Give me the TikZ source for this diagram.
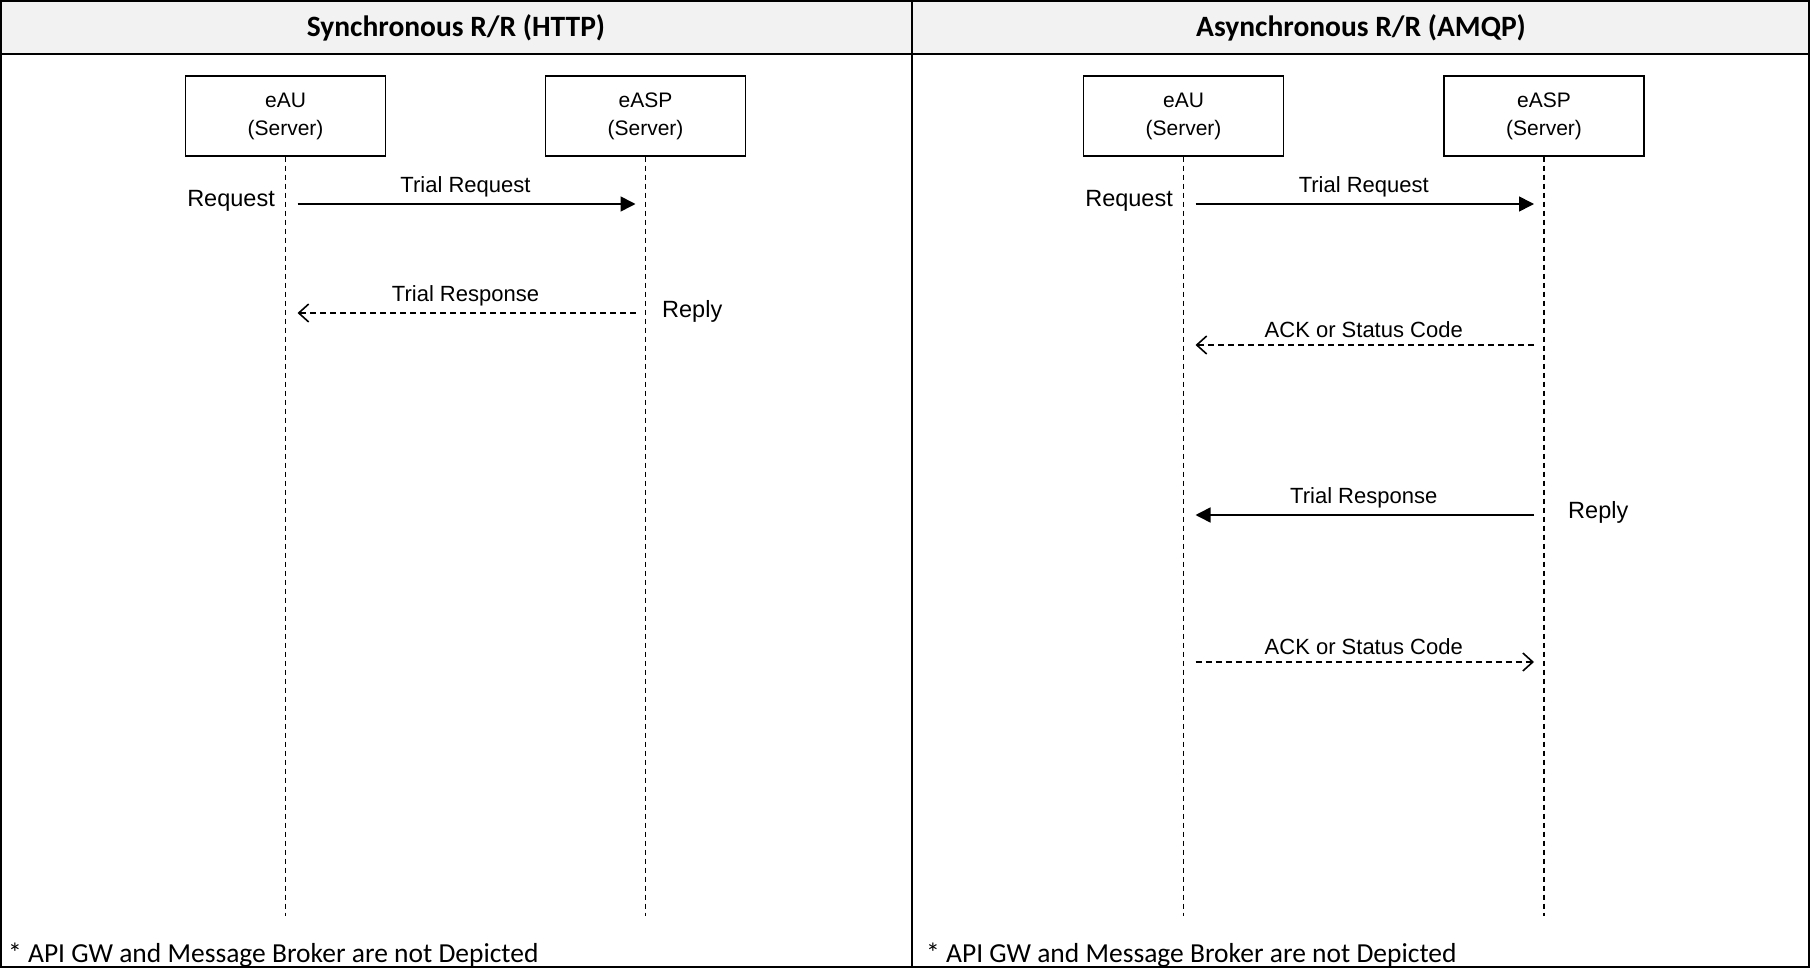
\documentclass[tikz,border=0pt]{standalone}
\usepackage{fontspec}
\setmainfont{Liberation Sans}
\newfontfamily\calibri{Carlito}
\usetikzlibrary{arrows.meta}
\definecolor{hdrgray}{HTML}{F2F2F2}
\begin{document}
\begin{tikzpicture}[x=1pt,y=-1pt,
  frame/.style={draw=black, line width=2pt},
  hdr/.style={font=\calibri\bfseries\fontsize{29.5}{34}\selectfont},
  actor/.style={draw, line width=1.4pt, minimum width=200pt, minimum height=80pt, align=center, inner sep=0pt, font=\fontsize{21}{28}\selectfont},
  lifeline/.style={line width=1.3pt, dash pattern=on 5pt off 4pt},
  reqarrow/.style={line width=1.6pt, -{Triangle[length=15pt,width=15pt]}},
  ackarrow/.style={line width=1.6pt, dash pattern=on 6pt off 4pt, -{Straight Barb[length=10pt,width=18pt,line width=1.6pt]}},
  lbl/.style={font=\fontsize{22}{26}\selectfont, inner sep=1pt},
  side/.style={font=\fontsize{23.5}{28}\selectfont, inner sep=0pt},
  note/.style={font=\calibri\fontsize{27.5}{32}\selectfont, anchor=west, inner sep=0pt}
]
\useasboundingbox (0,0) rectangle (1810,968);
% header
\fill[hdrgray] (1,1) rectangle (1809,54);
\draw[frame] (1,1) rectangle (1809,967);
\draw[frame] (1,54) -- (1809,54);
\draw[frame] (912,1) -- (912,967);
\node[hdr] (hL) at (456,28) {Synchronous R/R (HTTP)};
\node[hdr] (hR) at (1361,28) {Asynchronous R/R (AMQP)};

% ---------- left panel ----------
\node[actor] (auL) at (285.5,116) {eAU\\(Server)};
\node[actor] (aspL) at (645.5,116) {eASP\\(Server)};
\coordinate (auLend) at (285.5,916);
\coordinate (aspLend) at (645.5,916);
\draw[lifeline] (auL.south) -- (auLend);
\draw[lifeline] (aspL.south) -- (aspLend);

\coordinate (l1a) at (285.5,204);
\coordinate (l1b) at (645.5,204);
\draw[reqarrow, shorten <=12pt, shorten >=10pt] (l1a) -- node[lbl, above=5pt] (tl1) {Trial Request} (l1b);
\node[side, anchor=east] (reqL) at (275,201) {Request};

\coordinate (l2a) at (645.5,313);
\coordinate (l2b) at (285.5,313);
\draw[ackarrow, shorten <=10pt, shorten >=12pt] (l2a) -- node[lbl, above=5pt] (tl2) {Trial Response} (l2b);
\node[side, anchor=west] (repL) at (662,311) {Reply};

\node[note] (nL) at (8,955) {* API GW and Message Broker are not Depicted};

% ---------- right panel ----------
\node[actor] (auR) at (1183.5,116) {eAU\\(Server)};
\node[actor] (aspR) at (1544,116) {eASP\\(Server)};
\coordinate (auRend) at (1183.5,916);
\coordinate (aspRend) at (1544,916);
\draw[lifeline] (auR.south) -- (auRend);
\draw[lifeline] (aspR.south) -- (aspRend);

\coordinate (r1a) at (1183.5,204);
\coordinate (r1b) at (1544,204);
\draw[reqarrow, shorten <=12pt, shorten >=10pt] (r1a) -- node[lbl, above=5pt] (tr1) {Trial Request} (r1b);
\node[side, anchor=east] (reqR) at (1173,201) {Request};

\coordinate (r2a) at (1544,345);
\coordinate (r2b) at (1183.5,345);
\draw[ackarrow, shorten <=10pt, shorten >=12pt] (r2a) -- node[lbl, above=5pt] (tr2) {ACK or Status Code} (r2b);

\coordinate (r3a) at (1544,515);
\coordinate (r3b) at (1183.5,515);
\draw[reqarrow, shorten <=10pt, shorten >=12pt] (r3a) -- node[lbl, above=5pt] (tr3) {Trial Response} (r3b);
\node[side, anchor=west] (repR) at (1568,512) {Reply};

\coordinate (r4a) at (1183.5,662);
\coordinate (r4b) at (1544,662);
\draw[ackarrow, shorten <=12pt, shorten >=10pt] (r4a) -- node[lbl, above=5pt] (tr4) {ACK or Status Code} (r4b);

\node[note] (nR) at (926,955) {* API GW and Message Broker are not Depicted};
\end{tikzpicture}
\end{document}
